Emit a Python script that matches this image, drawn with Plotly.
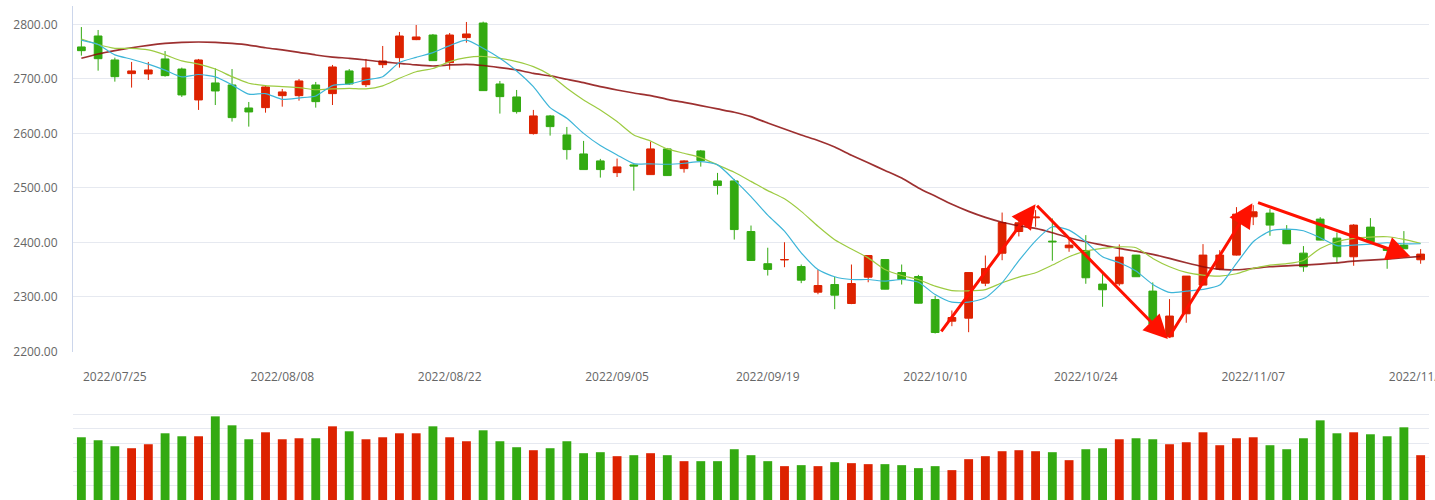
import plotly.graph_objects as go

dates = [
    "2022/07/21", "2022/07/22",
    "2022/07/25", "2022/07/26", "2022/07/27", "2022/07/28", "2022/07/29",
    "2022/08/01", "2022/08/02", "2022/08/03", "2022/08/04", "2022/08/05",
    "2022/08/08", "2022/08/09", "2022/08/10", "2022/08/11", "2022/08/12",
    "2022/08/15", "2022/08/16", "2022/08/17", "2022/08/18", "2022/08/19",
    "2022/08/22", "2022/08/23", "2022/08/24", "2022/08/25", "2022/08/26",
    "2022/08/29", "2022/08/30", "2022/08/31", "2022/09/01", "2022/09/02",
    "2022/09/05", "2022/09/06", "2022/09/07", "2022/09/08", "2022/09/09",
    "2022/09/13", "2022/09/14", "2022/09/15", "2022/09/16",
    "2022/09/19", "2022/09/20", "2022/09/21", "2022/09/22", "2022/09/23",
    "2022/09/26", "2022/09/27", "2022/09/28", "2022/09/29", "2022/09/30",
    "2022/10/10", "2022/10/11", "2022/10/12", "2022/10/13", "2022/10/14",
    "2022/10/17", "2022/10/18", "2022/10/19", "2022/10/20",
    "2022/10/24", "2022/10/25", "2022/10/26", "2022/10/27", "2022/10/28",
    "2022/10/31", "2022/11/01", "2022/11/02", "2022/11/03", "2022/11/04",
    "2022/11/07", "2022/11/08", "2022/11/09", "2022/11/10", "2022/11/11",
    "2022/11/14", "2022/11/15", "2022/11/16", "2022/11/17", "2022/11/18",
    "2022/11/21",
]

open_ = [2758.5, 2778.6, 2734.6, 2709.6, 2709.0, 2736.5, 2718.0, 2661.3, 2692.5, 2688.8,
         2646.6, 2647.2, 2669.2, 2669.2, 2688.8, 2672.9, 2714.5, 2689.4, 2726.0, 2738.9,
         2771.9, 2780.4, 2729.7, 2775.6, 2802.4, 2690.6, 2666.8, 2599.6, 2632.0, 2597.1,
         2562.3, 2549.5, 2528.0, 2542.2, 2524.4, 2571.5, 2535.4, 2567.8, 2512.8, 2512.8,
         2420.0, 2361.0, 2368.0, 2355.8, 2308.8, 2322.8, 2288.0, 2336.3, 2368.6, 2344.8,
         2337.5, 2295.3, 2255.6, 2261.1, 2325.3, 2380.2, 2420.0, 2445.2, 2402.4, 2390.2,
         2385.3, 2323.6, 2324.2, 2376.8, 2310.8, 2227.0, 2269.2, 2321.8, 2351.1, 2376.8,
         2447.0, 2453.8, 2422.6, 2380.4, 2442.8, 2407.9, 2373.7, 2428.1, 2389.6, 2395.1,
         2368.2]
high = [2795.0, 2789.6, 2738.9, 2731.0, 2731.0, 2751.0, 2720.6, 2736.5, 2719.3, 2718.0,
        2657.6, 2687.6, 2681.5, 2699.8, 2694.3, 2725.5, 2718.0, 2736.5, 2760.3, 2786.0,
        2798.8, 2782.3, 2784.1, 2804.3, 2804.9, 2696.1, 2679.6, 2643.0, 2633.8, 2611.8,
        2586.2, 2553.2, 2553.8, 2543.4, 2584.9, 2573.3, 2550.7, 2569.6, 2527.5, 2516.5,
        2431.0, 2390.3, 2400.4, 2359.5, 2349.7, 2336.9, 2359.5, 2376.0, 2369.0, 2359.5,
        2340.5, 2302.0, 2275.2, 2345.0, 2376.0, 2454.8, 2447.0, 2459.3, 2444.0, 2407.3,
        2413.4, 2342.6, 2396.3, 2377.0, 2326.7, 2296.1, 2338.3, 2396.9, 2385.9, 2464.8,
        2468.4, 2461.1, 2431.8, 2393.3, 2446.4, 2418.3, 2433.6, 2444.6, 2390.0, 2420.8,
        2387.8]
low = [2742.6, 2715.0, 2694.9, 2684.0, 2698.0, 2704.0, 2666.8, 2643.0, 2652.0, 2621.6,
       2612.4, 2638.0, 2649.0, 2660.0, 2647.2, 2652.0, 2689.0, 2685.0, 2720.0, 2720.6,
       2771.0, 2733.0, 2716.9, 2766.4, 2678.0, 2636.3, 2636.3, 2597.8, 2595.9, 2552.0,
       2533.4, 2518.9, 2520.0, 2495.0, 2524.0, 2522.0, 2528.0, 2539.0, 2487.8, 2405.3,
       2366.0, 2339.3, 2354.6, 2325.3, 2305.0, 2277.6, 2286.8, 2327.0, 2314.0, 2322.8,
       2288.0, 2233.0, 2246.4, 2235.4, 2319.8, 2367.4, 2411.0, 2428.7, 2366.4, 2382.9,
       2324.2, 2282.0, 2320.6, 2337.0, 2245.4, 2227.0, 2252.7, 2321.0, 2349.3, 2376.0,
       2431.8, 2412.2, 2397.0, 2346.2, 2404.0, 2362.7, 2357.2, 2401.0, 2351.7, 2388.0,
       2360.9]
close = [2751.7, 2737.0, 2704.0, 2714.5, 2716.3, 2705.9, 2670.5, 2734.6, 2677.8, 2628.9,
         2639.3, 2685.1, 2676.0, 2696.1, 2658.2, 2721.8, 2690.6, 2720.0, 2732.8, 2778.6,
         2776.8, 2733.4, 2780.4, 2782.3, 2678.4, 2667.4, 2639.9, 2632.0, 2612.4, 2570.3,
         2533.6, 2533.6, 2538.5, 2540.3, 2571.5, 2522.6, 2549.5, 2550.1, 2504.3, 2423.6,
         2367.0, 2350.6, 2368.6, 2330.8, 2321.0, 2303.3, 2324.6, 2376.0, 2314.3, 2332.0,
         2288.6, 2234.8, 2262.3, 2344.8, 2352.1, 2436.5, 2436.0, 2446.4, 2401.2, 2395.1,
         2335.2, 2313.2, 2373.1, 2337.1, 2249.7, 2265.0, 2338.3, 2376.8, 2376.8, 2451.9,
         2456.2, 2431.8, 2397.6, 2355.4, 2404.3, 2373.7, 2431.8, 2401.2, 2385.3, 2388.4,
         2378.6]

ma5 = [2771, 2763, 2744, 2736, 2727, 2716, 2703.5, 2708, 2703.5, 2689,
       2672, 2673, 2662.5, 2665, 2668.6, 2687.6, 2690.6, 2698, 2704, 2730,
       2739.5, 2748, 2761, 2771, 2756, 2737.7, 2714.5, 2685.7, 2647.3, 2627.7,
       2600, 2577.6, 2560.5, 2544.6, 2544, 2543.4, 2545.2, 2548.3, 2542.2, 2514.7,
       2484, 2450, 2420.6, 2381, 2350.3, 2337, 2332, 2332, 2329, 2332,
       2327, 2304.5, 2290.4, 2290.4, 2298.4, 2326, 2366.5, 2403, 2428.7, 2422.6,
       2401.2, 2373.7, 2362.7, 2347.5, 2323, 2308.3, 2310.8, 2313.8, 2321.8, 2361.5,
       2401.2, 2420.8, 2424.4, 2421.4, 2408.6, 2394, 2395.1, 2397, 2399.4, 2397.6,
       2397.6]
ma10 = [2773, 2763, 2756, 2756, 2753, 2744, 2733, 2727, 2718, 2704,
        2692, 2687.6, 2685.7, 2684, 2680, 2681.5, 2682.7, 2681.5, 2687, 2701,
        2713, 2719, 2731.6, 2739, 2741, 2737.7, 2731.6, 2722.4, 2707, 2682.7,
        2661.3, 2643, 2621.6, 2597, 2586, 2571.5, 2563.5, 2555.6, 2542.2, 2528.7,
        2512, 2495, 2480, 2457, 2429.7, 2405, 2388, 2371.7, 2350.3, 2339.3,
        2332, 2319.8, 2311.8, 2311.2, 2313.6, 2326, 2336.5, 2344.5, 2358.5, 2373.7,
        2384, 2389, 2392, 2390.2, 2370.7, 2355.4, 2345, 2340, 2338.3, 2342.6,
        2352.3, 2358.5, 2361, 2367, 2389, 2401.2, 2407.3, 2409.8, 2410.4, 2405.5,
        2398.2]
ma30 = [2737.7, 2745.6, 2751.7, 2757, 2761.5, 2765, 2767, 2767.6, 2767, 2765,
        2762, 2757, 2753, 2748.7, 2743.8, 2740, 2737.7, 2734.6, 2731, 2728.5,
        2725.5, 2723.6, 2725.5, 2726.7, 2724.5, 2720.6, 2716.3, 2710, 2705.3, 2699.2,
        2693, 2685.7, 2679.6, 2674, 2669.2, 2662.5, 2657, 2651, 2644.8, 2638.7,
        2630.8, 2619, 2608, 2597, 2587, 2575, 2560, 2546, 2532, 2518,
        2500, 2485, 2470, 2457, 2446, 2437, 2430.6, 2425.7, 2417.7, 2408.6,
        2401.2, 2395.1, 2389, 2384, 2378, 2370.7, 2362.7, 2355.4, 2350.5, 2349.9,
        2352.3, 2355.4, 2357.2, 2358.5, 2360.3, 2362.7, 2365.8, 2367.6, 2369.5, 2371.9,
        2374.3]

volume = [4.41, 4.20, 3.78, 3.64, 3.92, 4.69, 4.48, 4.48, 5.88, 5.25,
          4.27, 4.76, 4.27, 4.34, 4.34, 5.18, 4.83, 4.27, 4.41, 4.69,
          4.69, 5.18, 4.41, 4.13, 4.90, 4.13, 3.71, 3.50, 3.64, 4.13,
          3.29, 3.36, 3.08, 3.15, 3.29, 3.15, 2.73, 2.73, 2.73, 3.57,
          3.15, 2.73, 2.38, 2.45, 2.38, 2.66, 2.59, 2.52, 2.52, 2.45,
          2.24, 2.38, 2.10, 2.87, 3.08, 3.43, 3.50, 3.43, 3.36, 2.80,
          3.57, 3.64, 4.27, 4.34, 4.27, 3.92, 4.06, 4.76, 3.85, 4.34,
          4.41, 3.85, 3.57, 4.34, 5.60, 4.69, 4.76, 4.62, 4.48, 5.11,
          3.15]

tick_dates = ["2022/07/25", "2022/08/08", "2022/08/22", "2022/09/05", "2022/09/19",
              "2022/10/10", "2022/10/24", "2022/11/07", "2022/11/21"]

# trend arrows: (index, value) waypoints
arrow_pts = [(51.3, 2234), (57.0, 2470), (64.9, 2223), (69.95, 2472)]
arrow_last = [(70.2, 2474), (79.4, 2374)]

UP = "#dd2200"
DOWN = "#33aa11"
GRID = "#e6e9f0"
FONT = dict(family="Open Sans, Arial, sans-serif", size=12, color="#666666")

fig = go.Figure()
fig.add_trace(go.Candlestick(
    x=dates, open=open_, high=high, low=low, close=close,
    increasing=dict(line=dict(color=UP, width=1), fillcolor=UP),
    decreasing=dict(line=dict(color=DOWN, width=1), fillcolor=DOWN),
    whiskerwidth=0, xaxis="x", yaxis="y", showlegend=False,
))
for vals, col, w in [(ma30, "rgba(140,12,12,0.85)", 1.7), (ma10, "#9dcb42", 1.2), (ma5, "#3db5d8", 1.2)]:
    fig.add_trace(go.Scatter(x=dates, y=vals, mode="lines",
                             line=dict(color=col, width=w, shape="spline", smoothing=0.6),
                             xaxis="x", yaxis="y", showlegend=False, hoverinfo="skip"))

vol_colors = [UP if c >= o else DOWN for o, c in zip(open_, close)]
fig.add_trace(go.Bar(x=dates, y=volume, marker=dict(color=vol_colors, line=dict(width=0)),
                     width=0.53, xaxis="x2", yaxis="y2", showlegend=False))

annotations = []
for (x0, y0), (x1, y1) in zip(arrow_pts[:-1], arrow_pts[1:]):
    annotations.append(dict(x=x1, y=y1, ax=x0, ay=y0, xref="x", yref="y", axref="x", ayref="y",
                            text="", showarrow=True, arrowhead=2, arrowsize=1.6,
                            arrowwidth=3, arrowcolor="#ff1100"))
annotations.append(dict(x=arrow_last[1][0], y=arrow_last[1][1], ax=arrow_last[0][0], ay=arrow_last[0][1],
                        xref="x", yref="y", axref="x", ayref="y", text="", showarrow=True,
                        arrowhead=2, arrowsize=1.6, arrowwidth=3, arrowcolor="#ff1100"))

fig.update_layout(
    width=1435, height=500,
    margin=dict(l=73, r=6, t=0, b=0, autoexpand=False),
    paper_bgcolor="white", plot_bgcolor="white",
    boxgap=0.34,
    font=FONT,
    annotations=annotations,
    xaxis=dict(type="category", range=[-0.5, 80.5], domain=[0, 1], anchor="y", automargin=False,
               rangeslider=dict(visible=False), showgrid=False, zeroline=False,
               showline=False, tickmode="array", tickvals=tick_dates, ticktext=tick_dates,
               ticks="", ticklabelstandoff=16, tickfont=FONT),
    yaxis=dict(domain=[0.297, 0.988], range=[2200, 2833.6], tick0=2200, dtick=100,
               tickformat=".2f", showgrid=True, gridcolor=GRID, gridwidth=1, zeroline=False,
               showline=True, linecolor="#ccd6eb", linewidth=1, ticks="", automargin=False,
               ticklabelstandoff=12, tickfont=FONT, anchor="x"),
    xaxis2=dict(type="category", matches="x", range=[-0.5, 80.5], domain=[0, 1], anchor="y2",
                automargin=False, showgrid=False, zeroline=False, showline=False,
                showticklabels=False, ticks=""),
    yaxis2=dict(domain=[0, 0.2], range=[0, 7.03], tick0=0, dtick=1, showgrid=True,
                gridcolor=GRID, gridwidth=1, zeroline=False, showline=False, automargin=False,
                showticklabels=False, ticks="", anchor="x2"),
    hovermode=False,
)

fig.write_html("out.html")
